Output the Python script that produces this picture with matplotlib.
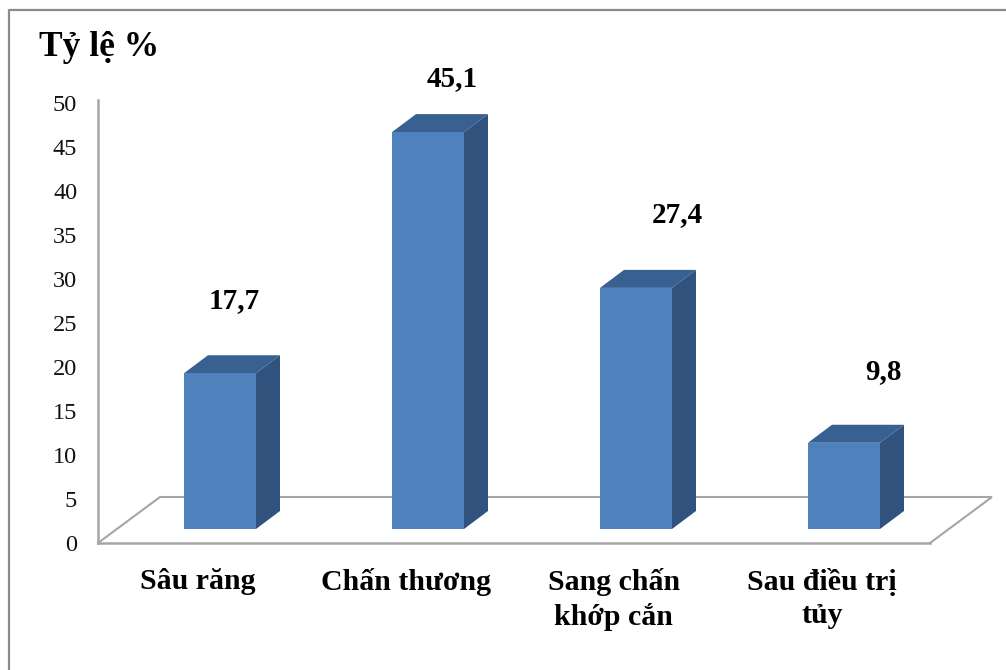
import matplotlib
matplotlib.use("Agg")
import matplotlib.pyplot as plt

plt.rcParams['font.family'] = ['Liberation Serif', 'DejaVu Serif']

categories = ["Sâu răng", "Chấn thương", "Sang chấn\nkhớp cắn", "Sau điều trị\ntủy"]
values = [17.7, 45.1, 27.4, 9.8]
value_labels = ["17,7", "45,1", "27,4", "9,8"]
y_ticks = [0, 5, 10, 15, 20, 25, 30, 35, 40, 45, 50]

W, H = 1006, 670
GREY = "#a6a6a6"
FRONT, SIDE, TOP = "#4f81bd", "#31527c", "#386090"

fig = plt.figure(figsize=(W / 100, H / 100), dpi=100)
ax = fig.add_axes([98 / W, 1 - 543 / H, 832 / W, 443 / H])
ax.set_xlim(-0.5, 3.5)
ax.set_ylim(0, 443 / 8.8)

# pixel sizes of the fake 3D, turned into data units
px_x = 1 / 208
px_y = 1 / 8.8
bar_w = 72 * px_x
bar_off = 18 * px_x       # bars sit right of the category centre
base = 14 * px_y          # front of bar is above the floor edge
dx, dy = 24 * px_x, 18 * px_y

# floor
fx, fy = 62 * px_x, 46 * px_y
x0, x1 = ax.get_xlim()
ax.plot([x0, x0 + fx, x1 + fx, x1], [0, fy, fy, 0], color=GREY, lw=1.5,
        clip_on=False, zorder=1, solid_joinstyle="miter")

# bars
for i, v in enumerate(values):
    left = i + bar_off - bar_w / 2
    right = left + bar_w
    ax.bar(i + bar_off, v, width=bar_w, bottom=base, color=FRONT, zorder=3)
    ax.fill([right, right + dx, right + dx, right],
            [base, base + dy, base + v + dy, base + v], color=SIDE, lw=0, zorder=2)
    ax.fill([left, left + dx, right + dx, right],
            [base + v, base + v + dy, base + v + dy, base + v], color=TOP, lw=0, zorder=2)

# value labels were moved by hand in the original
label_offsets = [(14, 73), (24, 54), (41, 73), (40, 71)]
for i, v in enumerate(values):
    ox, oy = label_offsets[i]
    ax.annotate(value_labels[i], (i + bar_off, base + v), xytext=(ox * 0.72, oy * 0.72),
                textcoords="offset points", ha="center", va="center",
                fontsize=21, fontweight="bold", color="black")

for s in ["top", "right"]:
    ax.spines[s].set_visible(False)
for s in ["left", "bottom"]:
    ax.spines[s].set_color(GREY)
    ax.spines[s].set_linewidth(1.8)

ax.set_yticks(y_ticks)
ax.set_yticklabels([str(t) for t in y_ticks], fontsize=17.5, color="#111111")
ax.set_xticks([i - 0.02 for i in range(len(categories))])
ax.set_xticklabels(categories, fontsize=21.5, fontweight="bold", linespacing=1.3)
ax.tick_params(axis="y", length=0, pad=15)
ax.tick_params(axis="x", length=0, pad=18)
ax.patch.set_alpha(0)

fig.text(39 / W, 1 - 47 / H, "Tỷ lệ %", fontsize=25.5, fontweight="bold", ha="left", va="center")

# outer chart frame, only left and top are inside the crop
fig.add_artist(plt.Line2D([8.5 / W, 8.5 / W, 1], [0, 1 - 9.5 / H, 1 - 9.5 / H], color="#8c8c8c", lw=1.6))

fig.savefig("out.png", dpi=100)
